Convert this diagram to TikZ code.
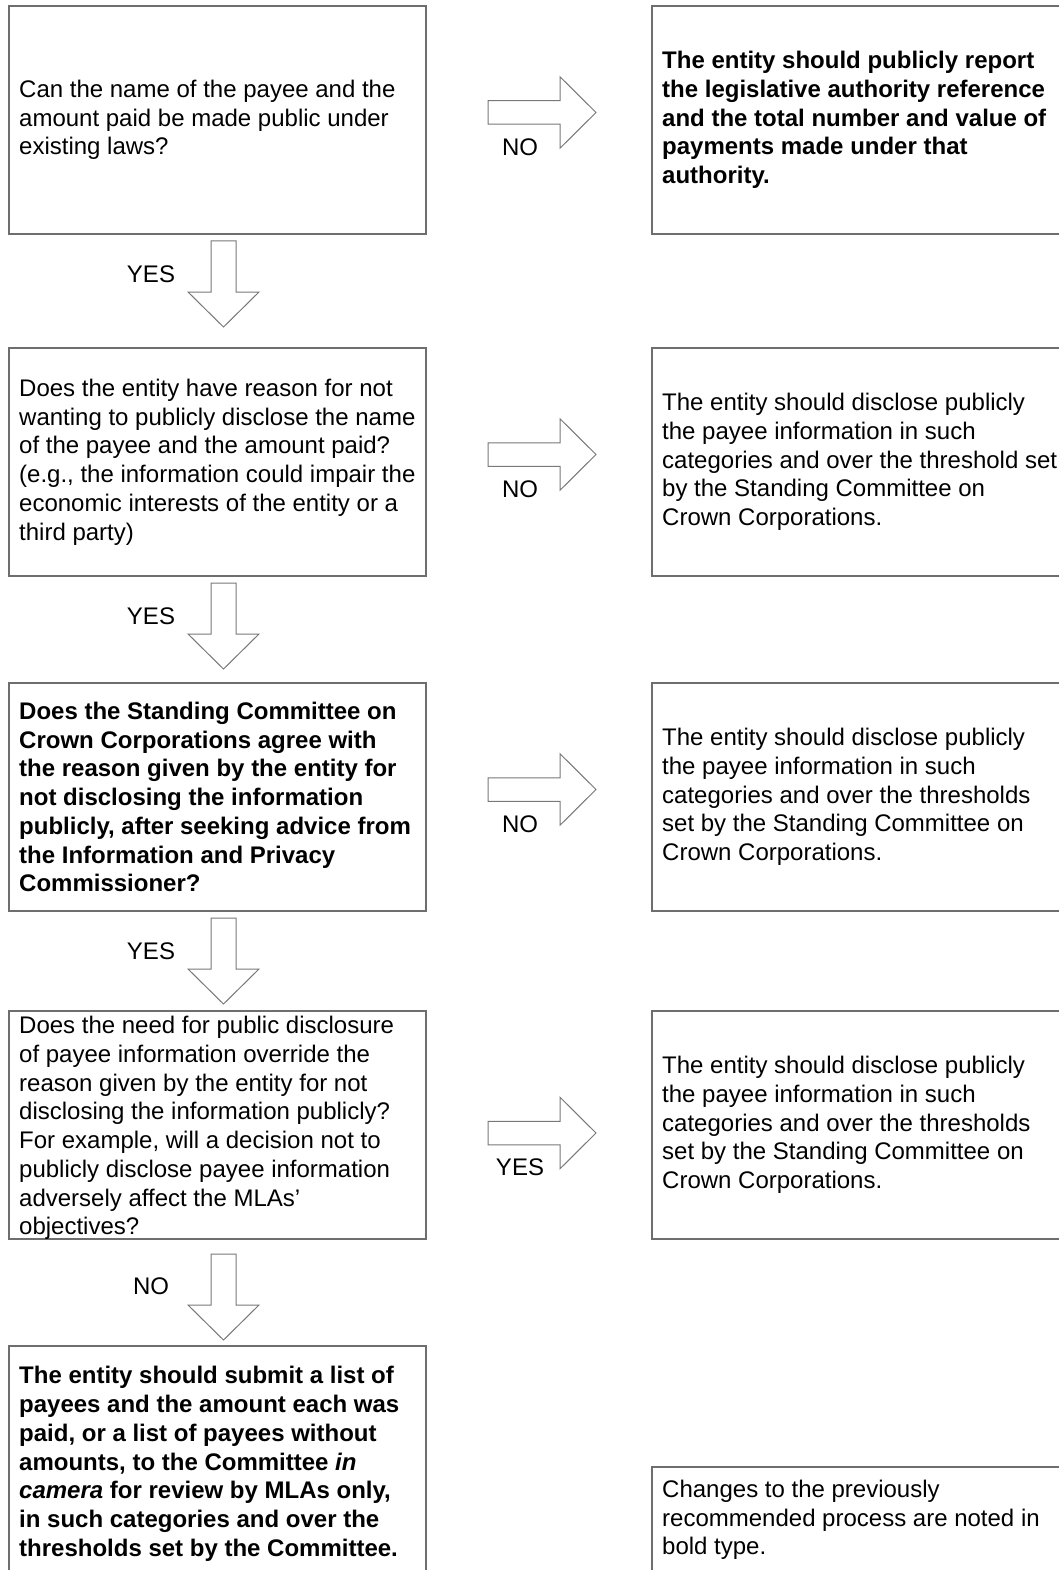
\documentclass[tikz,border=0pt]{standalone}
\usepackage{fontspec}
\setmainfont{Liberation Sans}
\definecolor{boxline}{RGB}{110,110,110}
\definecolor{arrline}{RGB}{120,120,120}
\begin{document}
\begin{tikzpicture}[x=1pt,y=-1pt,
  every node/.style={font=\fontsize{24}{28.75}\selectfont},
  box/.style={draw=boxline, line width=1.4pt, anchor=north west, minimum width=417pt,
    minimum height=228pt, inner sep=0pt, outer sep=0pt},
  txt/.style={anchor=west, align=left, inner sep=0pt, xshift=10pt},
  bold/.style={font=\fontsize{24}{28.75}\selectfont\bfseries},
  arrowline/.style={draw=arrline, line width=1pt, fill=white, line join=miter},
  lbl/.style={inner sep=0pt},
  rarrow/.pic={\draw[arrowline] (0,-11.75) -- (72,-11.75) -- (72,-35.75) -- (108,0) -- (72,35.75) -- (72,11.75) -- (0,11.75) -- cycle;},
  darrow/.pic={\draw[arrowline] (-12.5,0) -- (-12.5,51) -- (-35.5,51) -- (0,86) -- (35.5,51) -- (12.5,51) -- (12.5,0) -- cycle;}
]
\useasboundingbox (0,0) rectangle (1059,1570);
\fill[white] (0,0) rectangle (1059,1570);

% left column boxes
\node[box] (q1) at (9,6) {};
\node[box] (q2) at (9,348) {};
\node[box] (q3) at (9,683) {};
\node[box] (q4) at (9,1011) {};
\node[box] (q5) at (9,1346) {};
% right column boxes
\node[box] (r1) at (652,6) {};
\node[box] (r2) at (652,348) {};
\node[box] (r3) at (652,683) {};
\node[box] (r4) at (652,1011) {};
\node[box,minimum height=106pt] (note) at (652,1467) {};

% texts
\node[txt] (q1t) at (q1.west) {Can the name of the payee and the\\amount paid be made public under\\existing laws?};
\node[txt] (q2t) at (q2.west) {Does the entity have reason for not\\wanting to publicly disclose the name\\of the payee and the amount paid?\\(e.g., the information could impair the\\economic interests of the entity or a\\third party)};
\node[txt,bold] (q3t) at (q3.west) {Does the Standing Committee on\\Crown Corporations agree with\\the reason given by the entity for\\not disclosing the information\\publicly, after seeking advice from\\the Information and Privacy\\Commissioner?};
\node[txt,yshift=-3pt] (q4t) at (q4.west) {Does the need for public disclosure\\of payee information override the\\reason given by the entity for not\\disclosing the information publicly?\\For example, will a decision not to\\publicly disclose payee information\\adversely affect the MLAs’\\objectives?};
\node[txt,bold,yshift=-4pt] (q5t) at (q5.west) {The entity should submit a list of\\payees and the amount each was\\paid, or a list of payees without\\amounts, to the Committee \textit{in}\\\textit{camera} for review by MLAs only,\\in such categories and over the\\thresholds set by the Committee.};

\node[txt,bold] (r1t) at (r1.west) {The entity should publicly report\\the legislative authority reference\\and the total number and value of\\payments made under that\\authority.};
\node[txt] (r2t) at (r2.west) {The entity should disclose publicly\\the payee information in such\\categories and over the threshold set\\by the Standing Committee on\\Crown Corporations.};
\node[txt] (r3t) at (r3.west) {The entity should disclose publicly\\the payee information in such\\categories and over the thresholds\\set by the Standing Committee on\\Crown Corporations.};
\node[txt] (r4t) at (r4.west) {The entity should disclose publicly\\the payee information in such\\categories and over the thresholds\\set by the Standing Committee on\\Crown Corporations.};
\node[txt] (notet) at (note.west) {Changes to the previously\\recommended process are noted in\\bold type.};

% right arrows
\pic at (488,112.5) {rarrow};
\node[lbl] (n1) at (520,147) {NO};
\pic at (488,454.5) {rarrow};
\node[lbl] (n2) at (520,489) {NO};
\pic at (488,789.5) {rarrow};
\node[lbl] (n3) at (520,824) {NO};
\pic at (488,1133) {rarrow};
\node[lbl] (n4) at (520,1167) {YES};

% down arrows
\pic at (223.5,241) {darrow};
\node[lbl] (y1) at (151,274) {YES};
\pic at (223.5,583) {darrow};
\node[lbl] (y2) at (151,616) {YES};
\pic at (223.5,918) {darrow};
\node[lbl] (y3) at (151,951) {YES};
\pic at (223.5,1254) {darrow};
\node[lbl] (y4) at (151,1286) {NO};
\end{tikzpicture}
\end{document}
